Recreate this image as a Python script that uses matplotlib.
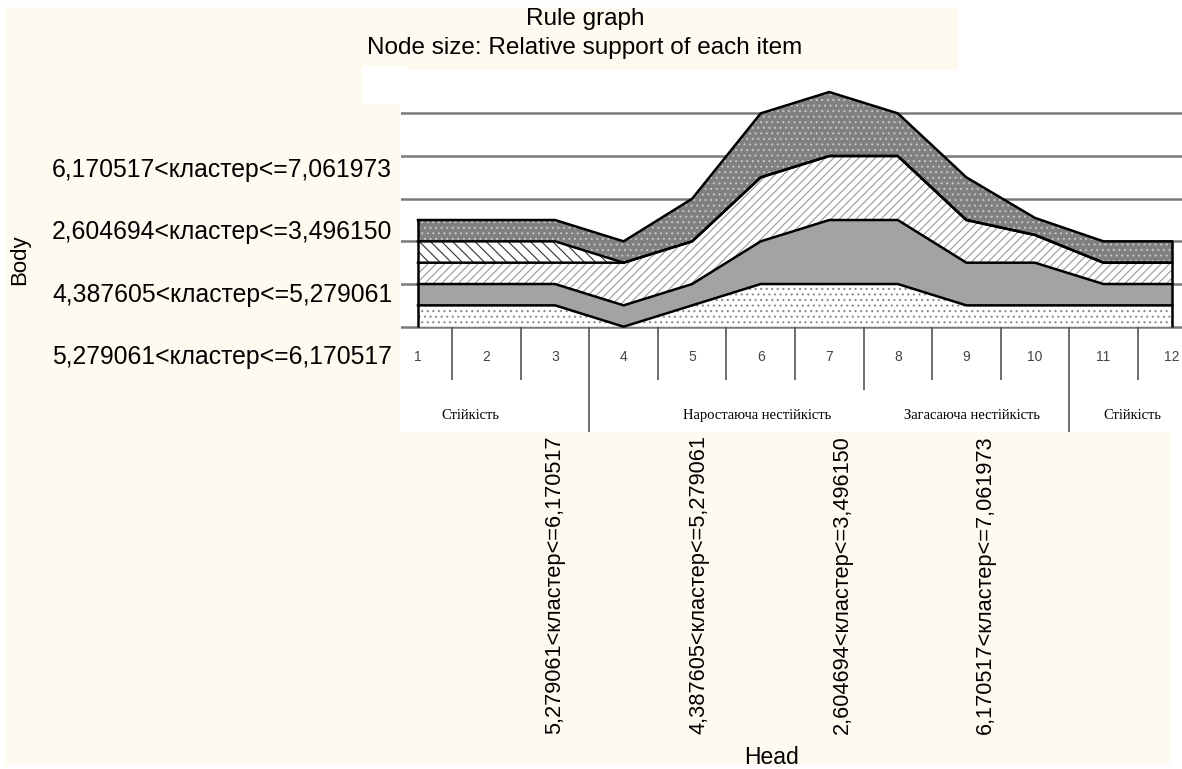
import numpy as np
import matplotlib
matplotlib.use('Agg')
import matplotlib.pyplot as plt
from matplotlib.patches import Rectangle

plt.rcParams['font.family'] = ['Liberation Sans', 'DejaVu Sans']
plt.rcParams['hatch.linewidth'] = 0.8

# Data
periods = list(range(1, 13))
dots_light = [0.5, 0.5, 0.5, 0.0, 0.5, 1.0, 1.0, 1.0, 0.5, 0.5, 0.5, 0.5]
solid_gray = [0.5, 0.5, 0.5, 0.5, 0.5, 1.0, 1.5, 1.5, 1.0, 1.0, 0.5, 0.5]
wavy_white = [0.5, 0.5, 0.5, 1.0, 1.0, 1.5, 1.5, 1.5, 1.0, 0.65, 0.5, 0.5]
diag_hatch = [0.5, 0.5, 0.5, 0.0, 0.0, 0.0, 0.0, 0.0, 0.0, 0.0, 0.0, 0.0]
dots_dark = [0.5, 0.5, 0.5, 0.5, 1.0, 1.5, 1.5, 1.0, 1.0, 0.4, 0.5, 0.5]

groups = ['Стійкість', 'Наростаюча нестійкість', 'Загасаюча нестійкість', 'Стійкість']
group_pos = [1.76, 5.95, 9.08, 11.42]

body_labels = ['6,170517<кластер<=7,061973', '2,604694<кластер<=3,496150',
               '4,387605<кластер<=5,279061', '5,279061<кластер<=6,170517']
head_labels = ['5,279061<кластер<=6,170517', '4,387605<кластер<=5,279061',
               '2,604694<кластер<=3,496150', '6,170517<кластер<=7,061973']

W, H = 1182, 769
fig = plt.figure(figsize=(W / 100, H / 100), dpi=100, facecolor='white')
cream = '#fefaf0'


def box(x0, y0, x1, y1, color, z):
    fig.patches.append(Rectangle((x0 / W, 1 - y1 / H), (x1 - x0) / W, (y1 - y0) / H,
                                 transform=fig.transFigure, facecolor=color,
                                 edgecolor='none', zorder=z))


# background panels
box(5, 7, 958, 70, cream, 0)
box(5, 70, 400, 765, cream, 0)
box(400, 432, 1170, 765, cream, 0)
box(362, 66, 408, 104, 'white', 1)

# titles and labels
fig.text(585 / W, 1 - 19 / H, 'Rule graph', ha='center', va='center', fontsize=17.5)
fig.text(585 / W, 1 - 48 / H, 'Node size: Relative support of each item',
         ha='center', va='center', fontsize=17.5)
for i, lab in enumerate(body_labels):
    fig.text(52 / W, 1 - (170 + 62.3 * i) / H, lab, ha='left', va='center', fontsize=17.8)
fig.text(20 / W, 1 - 260 / H, 'Body', rotation=90, ha='center', va='center', fontsize=16)
for i, lab in enumerate(head_labels):
    fig.text((555 + 143.5 * i) / W, 1 - 435 / H, lab, rotation=90,
             ha='center', va='top', fontsize=15.7)
fig.text(772 / W, 1 - 757 / H, 'Head', ha='center', va='center', fontsize=16.5)

# chart panel
ax = fig.add_axes([401 / W, 1 - 432 / H, (W - 401) / W, (432 - 70) / H])
ax.set_facecolor('white')
ax.set_xlim(0.752, 12.146)
ax.set_ylim(-2.468, 6.016)
for s in ax.spines.values():
    s.set_visible(False)
ax.set_yticks(range(6))
ax.set_xticks([])
ax.tick_params(left=False, labelleft=False)
ax.grid(axis='y', color='#7a7a7a', lw=1.8, zorder=0)
ax.set_axisbelow(True)

x = np.array(periods)
layers = [
    (dots_light, 'white', '#8c8c8c', '...'),
    (solid_gray, '#a3a3a3', None, None),
    (wavy_white, 'white', '#9a9a9a', '////'),
    (diag_hatch, 'white', '#333333', '\\\\\\'),
    (dots_dark, '#808080', '#c4c4c4', '...'),
]
base = np.zeros(len(x))
for vals, face, hcol, hatch in layers:
    top = base + np.array(vals)
    ax.fill_between(x, base, top, facecolor=face, edgecolor='none', lw=0, zorder=2)
    if hatch:
        ax.fill_between(x, base, top, facecolor='none', edgecolor=hcol, hatch=hatch,
                        lw=0, zorder=3)
    ax.plot(x, top, color='black', lw=1.8, zorder=4)
    base = top
ax.vlines([x[0], x[-1]], 0, [base[0], base[-1]], color='black', lw=1.8, zorder=4)

# category table under the axis
edges = x[:-1] + 0.5
depth = {3.5: -2.468, 7.5: -1.48, 10.5: -2.468}
for e in edges:
    ax.vlines(e, depth.get(e, -1.25), 0, color='#555555', lw=1.2, zorder=1)
for p in periods:
    ax.text(p, -0.71, str(p), ha='center', va='center', fontsize=10, color='#444444')
for g, gx in zip(groups, group_pos):
    ax.text(gx, -2.07, g, ha='center', va='center', fontsize=10.5,
            family=['Liberation Serif', 'DejaVu Serif'], color='black')

fig.savefig('out.png', dpi=100, facecolor='white')
